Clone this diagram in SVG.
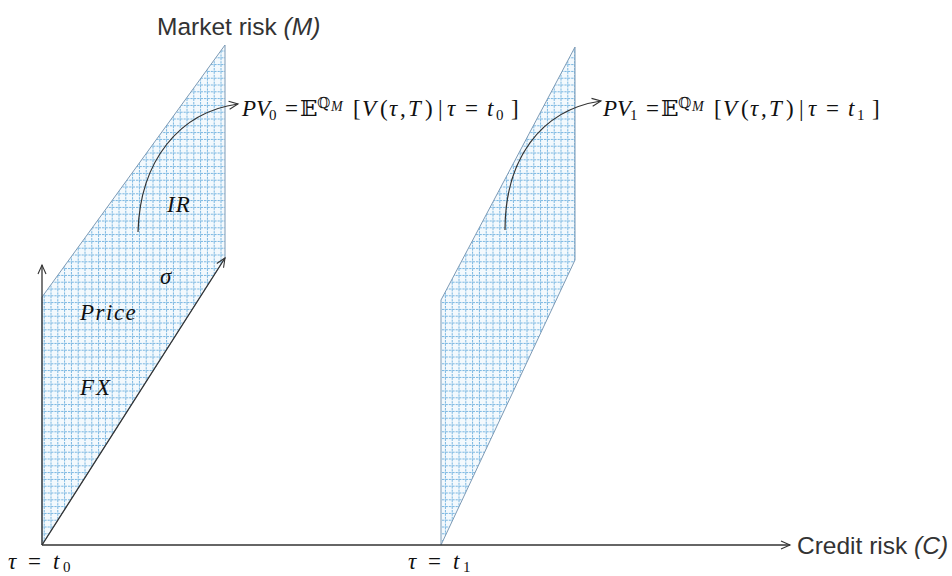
<svg xmlns="http://www.w3.org/2000/svg" width="952" height="576" viewBox="0 0 952 576">
<defs>
<pattern id="grid" width="6.8" height="6.8" patternUnits="userSpaceOnUse">
<rect width="6.8" height="6.8" fill="#f3f9fd"/>
<line x1="3.4" y1="0" x2="3.4" y2="6.8" stroke="#6aaedd" stroke-width="0.9" stroke-dasharray="2.4 1.0"/>
<line x1="0" y1="3.4" x2="6.8" y2="3.4" stroke="#6aaedd" stroke-width="0.9" stroke-dasharray="2.4 1.0"/>
</pattern>
<marker id="arr" markerWidth="12" markerHeight="10" refX="10" refY="5" orient="auto" markerUnits="userSpaceOnUse">
<path d="M1,1 L10,5 L1,9" fill="none" stroke="#333" stroke-width="1.1"/>
</marker>
</defs>
<style>
.plane{fill:url(#grid);stroke:#7d9ab5;stroke-width:1}
.ax{fill:none;stroke:#333;stroke-width:1.3}
.cv{fill:none;stroke:#333;stroke-width:1.2}
.lbl{font-family:"Liberation Sans","Open Sans",sans-serif;font-size:24.5px;fill:#333}
.m{font-family:"Liberation Serif","DejaVu Serif",serif;font-size:23px;fill:#111}
.mi{font-style:italic}
.sb{font-size:15px}
.q{font-size:15px}
.qm{font-size:14px;font-style:italic}
</style>
<rect width="952" height="576" fill="#fff"/>
<g id="plane0">
<polygon class="plane" points="42,545 42,297 225,45 225,258"/>
</g>
<g id="plane1">
<polygon class="plane" points="441,545 441,300 575,47 575,260"/>
</g>
<g id="connectors">
<line class="ax" x1="42" y1="545" x2="790" y2="545" marker-end="url(#arr)"/>
<line class="ax" x1="42" y1="545" x2="42" y2="265" marker-end="url(#arr)"/>
<line class="ax" x1="42" y1="545" x2="225" y2="258" marker-end="url(#arr)"/>
<path class="cv" d="M138,232 C140,160 180,112 238,104" marker-end="url(#arr)"/>
<path class="cv" d="M505,230 C505,160 540,110 601,101" marker-end="url(#arr)"/>
</g>
<g id="labels">
<text class="lbl" x="157" y="35">Market risk <tspan font-style="italic">(M)</tspan></text>
<text class="lbl" x="797" y="554">Credit risk <tspan font-style="italic">(C)</tspan></text>
<text class="m mi" x="167" y="212" letter-spacing="1">IR</text>
<text class="m mi" x="160" y="284">σ</text>
<text class="m mi" x="80" y="320" letter-spacing="1.5">Price</text>
<text class="m mi" x="80" y="395" letter-spacing="2">FX</text>
<text class="m" y="569"><tspan class="mi" x="8">τ</tspan><tspan x="28">=</tspan><tspan class="mi" x="53">t</tspan><tspan class="sb" x="63" dy="3">0</tspan></text>
<text class="m" y="569"><tspan class="mi" x="408">τ</tspan><tspan x="428">=</tspan><tspan class="mi" x="453">t</tspan><tspan class="sb" x="463" dy="3">1</tspan></text>
<text class="m" y="116"><tspan class="mi" x="242">PV</tspan><tspan class="sb" x="269" dy="4">0</tspan><tspan x="285" dy="-4">=</tspan><tspan x="300">𝔼</tspan><tspan class="q" x="317" dy="-8">ℚ</tspan><tspan class="qm" x="331" dy="3">M</tspan><tspan x="353" dy="5">[</tspan><tspan class="mi" x="362">V</tspan><tspan x="380">(</tspan><tspan class="mi" x="389">τ</tspan><tspan x="400">,</tspan><tspan class="mi" x="408">T</tspan><tspan x="425">)</tspan><tspan x="438">|</tspan><tspan class="mi" x="447">τ</tspan><tspan x="465">=</tspan><tspan class="mi" x="487">t</tspan><tspan class="sb" x="496" dy="4">0</tspan><tspan x="511" dy="-4">]</tspan></text>
<text class="m" y="116"><tspan class="mi" x="603">PV</tspan><tspan class="sb" x="630" dy="4">1</tspan><tspan x="646" dy="-4">=</tspan><tspan x="661">𝔼</tspan><tspan class="q" x="678" dy="-8">ℚ</tspan><tspan class="qm" x="692" dy="3">M</tspan><tspan x="714" dy="5">[</tspan><tspan class="mi" x="723">V</tspan><tspan x="741">(</tspan><tspan class="mi" x="750">τ</tspan><tspan x="761">,</tspan><tspan class="mi" x="769">T</tspan><tspan x="786">)</tspan><tspan x="799">|</tspan><tspan class="mi" x="808">τ</tspan><tspan x="826">=</tspan><tspan class="mi" x="848">t</tspan><tspan class="sb" x="857" dy="4">1</tspan><tspan x="872" dy="-4">]</tspan></text>
</g>
</svg>
